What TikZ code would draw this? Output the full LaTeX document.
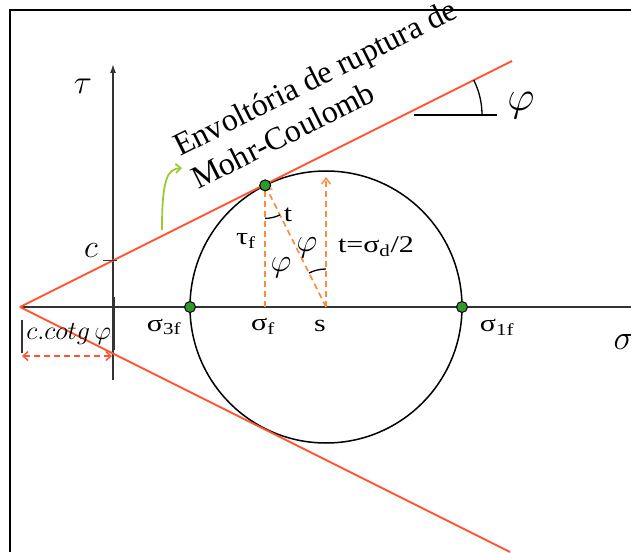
\documentclass[tikz,border=0pt]{standalone}
\usepackage{fontspec}
\setmainfont{Liberation Serif}
\usepackage{tikz}
\usetikzlibrary{arrows.meta,calc}
\definecolor{envred}{HTML}{FF5533}
\definecolor{dashorange}{HTML}{FF8C3A}
\definecolor{dotgreen}{HTML}{2E9A2E}
\definecolor{leafgreen}{HTML}{99CC33}
\definecolor{axisgray}{HTML}{333333}
\tikzset{
    axisline/.style={draw=axisgray, line width=1.4pt},
    envelope/.style={draw=envred, line width=1.8pt},
    guide/.style={draw=dashorange, line width=1.6pt, dash pattern=on 6pt off 4pt},
    guidearrow/.style={guide, -{Straight Barb[length=6pt,width=9pt,line width=1.4pt]}},
    anglemark/.style={draw=black, line width=1.3pt},
    failpoint/.style={circle, draw=black, fill=dotgreen, line width=1pt, minimum size=11pt, inner sep=0pt},
    lbl/.style={font=\fontsize{24}{28}\selectfont, xscale=1.25, inner sep=1pt},
    mathlbl/.style={font=\Huge, inner sep=1pt},
    envtext/.style={font=\fontsize{32}{36}\selectfont, rotate=26.57, anchor=base west, inner sep=0pt}
}

\begin{document}
\begin{tikzpicture}[x=1pt, y=1pt]
  \useasboundingbox (0,0) rectangle (631,552);

  % Frame
  \draw[line width=2.2pt] (10,0) -- (10,542) -- (631,542);

  % Key points of the Mohr circle
  \coordinate (apex) at (20,245);
  \coordinate (s) at (326,245);
  \coordinate (tang) at ($(s)+(116.57:136)$);
  \coordinate (sigf) at (tang |- s);
  \coordinate (top) at (326,375);

  % Axes
  \draw[axisline, -{Latex[length=9pt,width=6pt]}] (113,172) -- (113,488) coordinate (tauend);
  \draw[axisline] (apex) -- (631,245);

  % Circle
  \draw[line width=1.5pt] (s) circle (136);

  % Failure envelopes
  \draw[envelope] (apex) -- (512,491) coordinate (envend);
  \draw[envelope] (apex) -- (510,0);

  % Cohesion tick and intercept dimension
  \coordinate (cpt) at (113,291.5);
  \draw[axisline] ($(cpt)+(-10,0)$) -- ($(cpt)+(4,0)$);
  \coordinate (dimL) at (22,196);
  \coordinate (dimR) at (112,196);
  \draw[axisline, line width=1.6pt] (22,199) -- (22,232);
  \draw[axisline, line width=1.6pt] (114,202) -- (114,255);
  \draw[envelope, line width=1.5pt, dash pattern=on 6pt off 4pt,
        {Straight Barb[length=5pt,width=9pt]}-{Straight Barb[length=5pt,width=9pt]}] (dimL) -- (dimR);

  % Dashed construction lines
  \draw[guide] (sigf) -- (tang);
  \draw[guidearrow] (s) -- (tang);
  \draw[guidearrow] (s) -- (top);

  % Angle marks
  \draw[anglemark] ($(tang)+(270:33)$) arc[start angle=270, end angle=296.57, radius=33];
  \draw[anglemark] ($(s)+(90:38)$) arc[start angle=90, end angle=116.57, radius=38];
  \coordinate (phictr) at (404,437);
  \draw[anglemark] (414,437) -- (497,437);
  \draw[anglemark] ($(phictr)+(0:78)$) arc[start angle=0, end angle=26.57, radius=78];

  % Failure points
  \node[failpoint] (p3) at (190,245) {};
  \node[failpoint] (p1) at (462,245) {};
  \node[failpoint] (pt) at (tang) {};

  % Labels
  \node[mathlbl, scale=1.35] (taulbl) at (83,466) {$\tau$};
  \node[mathlbl, scale=1.3] (clbl) at (91,301) {$c$};
  \node[mathlbl, scale=1.05, anchor=west] (cotlbl) at (25,218) {$c.cotg\,\varphi$};
  \node[lbl] (s3lbl) at (164,225) {σ\textsubscript{3f}};
  \node[lbl] (sflbl) at (263,226) {σ\textsubscript{f}};
  \node[lbl] (slbl) at (320,226) {s};
  \node[lbl] (s1lbl) at (497,225) {σ\textsubscript{1f}};
  \node[mathlbl, scale=1.4, anchor=west] (siglbl) at (612,210) {$\sigma$};
  \node[lbl] (tflbl) at (246,311) {τ\textsubscript{f}};
  \node[lbl] (tlbl) at (288,337) {t};
  \node[mathlbl, scale=1.3] (phi1) at (307,304) {$\varphi$};
  \node[mathlbl, scale=1.3] (phi2) at (281,284) {$\varphi$};
  \node[lbl] (rlbl) at (376,305) {t=σ\textsubscript{d}/2};
  \node[mathlbl, scale=1.7] (phi3) at (521,446) {$\varphi$};

  % Envelope caption
  \node[envtext] (cap1) at (180,395) {Envoltória de ruptura de};
  \node[envtext] (cap2) at (198,362) {Mohr-Coulomb};
  \draw[leafgreen, line width=1.8pt, -{Straight Barb[length=5pt,width=9pt]}]
    (162,322) .. controls (162,372) and (167,383) .. (182,384);
\end{tikzpicture}
\end{document}
